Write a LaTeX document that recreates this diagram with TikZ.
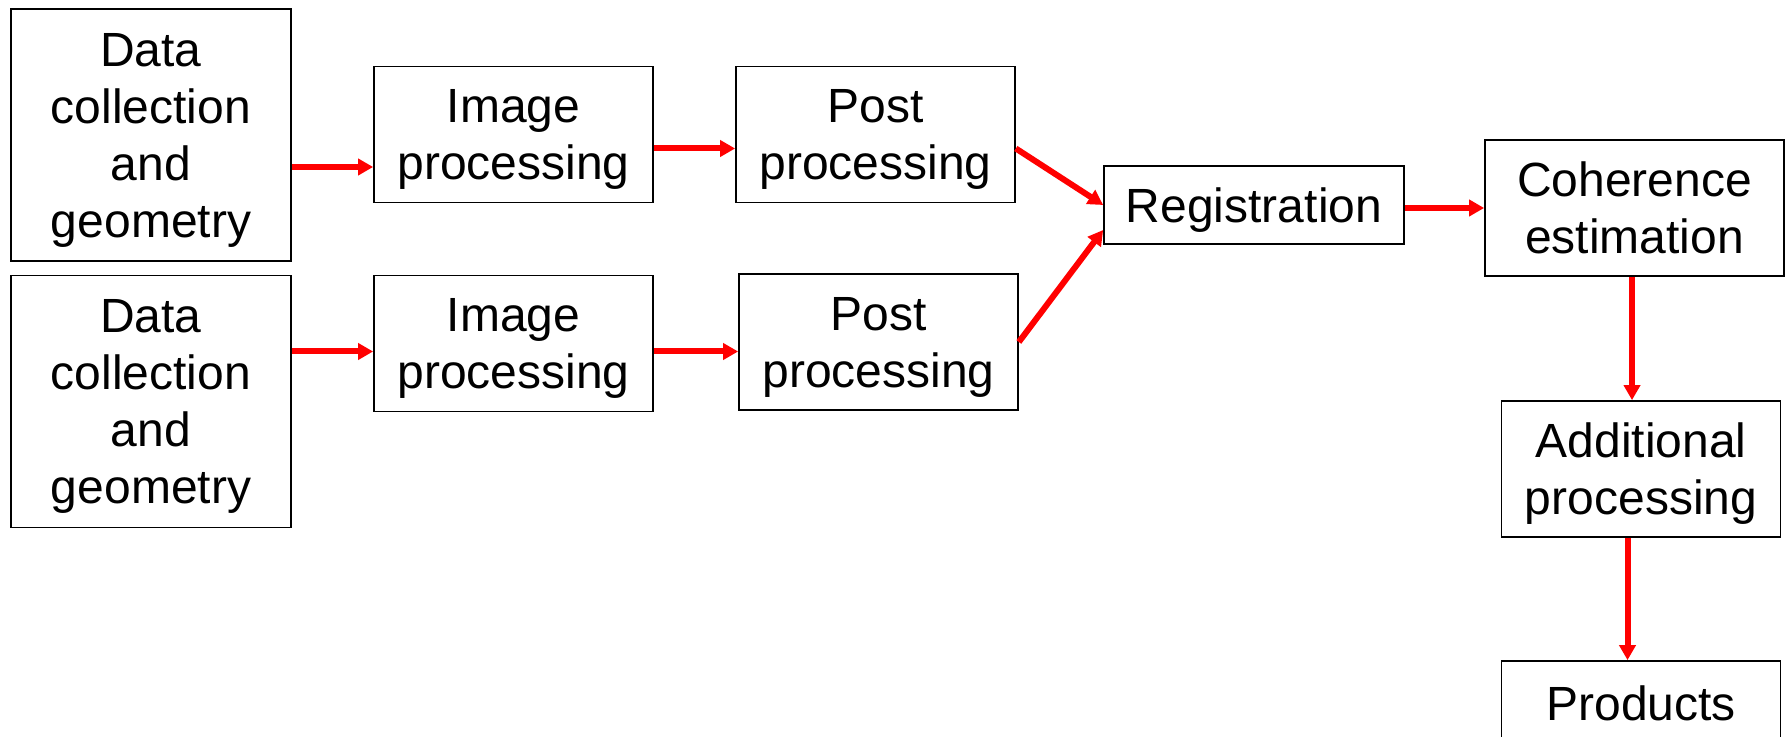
\documentclass[tikz,border=0pt]{standalone}
\usepackage{fontspec}
\setmainfont{Liberation Sans}
\usetikzlibrary{positioning, arrows.meta}
\definecolor{flowred}{HTML}{FF0000}

\begin{document}
\begin{tikzpicture}[
  x=0.5pt, y=-0.5pt,
  every node/.style={align=center, text=black},
  stage/.style={
    rectangle, draw=black, line width=0.85pt,
    fill=white,
    minimum width=139.5pt, minimum height=68pt,
    inner sep=2pt, text depth=0pt,
    font=\fontsize{24}{28.5}\selectfont
  },
  tallstage/.style={stage, minimum width=140pt, minimum height=126pt},
  arrow/.style={-{Triangle[length=7.5pt, width=8pt]}, line width=3pt, color=flowred}
]

% =============================================================================
% Frame (units = reference pixels, y downwards)
% =============================================================================
\useasboundingbox (0,0) rectangle (1787,737);

% --- Top branch
\node[tallstage] (dcA) at (151, 135) {Data\\collection\\and\\geometry};
\node[stage] (ipA) at (513.5, 134.5) {Image\\processing};
\node[stage] (ppA) at (875.5, 134.5) {Post\\processing};

% --- Bottom branch
\node[tallstage] (dcB) at (151, 401.5) {Data\\collection\\and\\geometry};
\node[stage] (ipB) at (513.5, 343.5) {Image\\processing};
\node[stage] (ppB) at (878.5, 342) {Post\\processing};

% --- Merge and chain on the right
\node[stage, minimum width=150pt, minimum height=39pt] (reg) at (1254, 205) {Registration};
\node[stage, minimum width=149.5pt] (coh) at (1634.5, 208) {Coherence\\estimation};
\node[stage] (addproc) at (1641, 469) {Additional\\processing};
\node[stage, minimum height=42pt] (prod) at (1641, 703) {Products};

% =============================================================================
% Arrows
% =============================================================================
\draw[arrow] ([yshift=-16pt]dcA.east) -- ([yshift=-16pt]dcA.east -| ipA.west);
\draw[arrow] ([yshift=-7pt]ipA.east) -- ([yshift=-7pt]ipA.east -| ppA.west);
\draw[arrow] ([yshift=25pt]dcB.east) -- ([yshift=25pt]dcB.east -| ipB.west);
\draw[arrow] ([yshift=-4pt]ipB.east) -- ([yshift=-4pt]ipB.east -| ppB.west);
\draw[arrow] ([yshift=-7pt]ppA.east) -- (reg.west);
\draw[arrow] (ppB.east) -- ([yshift=-12.5pt]reg.west);
\draw[arrow] ([yshift=-1.5pt]reg.east) -- ([yshift=-1.5pt]reg.east -| coh.west);
\draw[arrow] ([xshift=-1.25pt]coh.south) -- ([xshift=-1.25pt]coh.south |- addproc.north);
\draw[arrow] ([xshift=-6.75pt]addproc.south) -- ([xshift=-6.75pt]addproc.south |- prod.north);

\end{tikzpicture}
\end{document}
